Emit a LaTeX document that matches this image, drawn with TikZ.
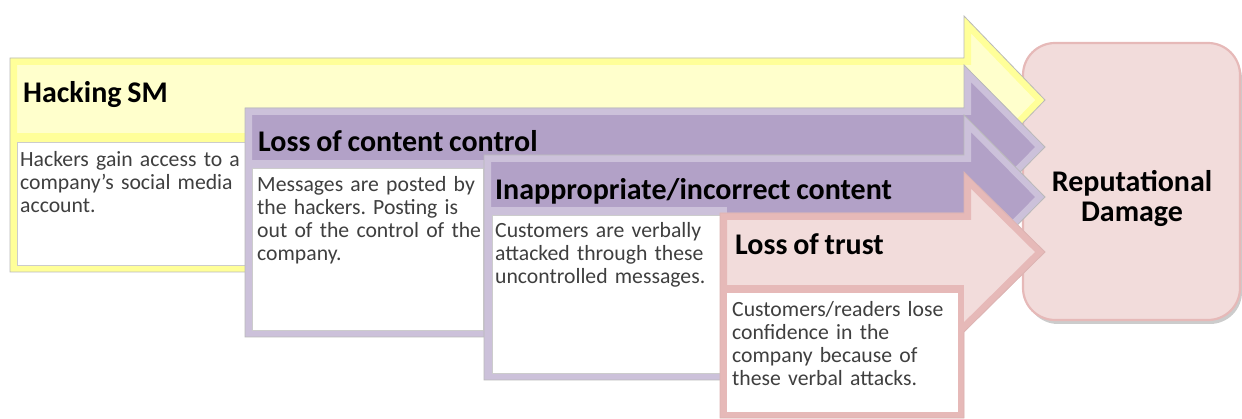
\documentclass[tikz,border=0pt]{standalone}
\usepackage{fontspec}
\setmainfont[WordSpace=0.85]{Carlito}
\usepackage{tikz}
\usepackage{xcolor}
\definecolor{yellowin}{HTML}{FFFFCC}
\definecolor{yellowrim}{HTML}{FFFF99}
\definecolor{purplein}{HTML}{B2A1C7}
\definecolor{purplerim}{HTML}{CCC1DA}
\definecolor{pinkin}{HTML}{F2DCDB}
\definecolor{pinkrim}{HTML}{E6B9B8}
\definecolor{bodygray}{HTML}{3F3F3F}
\frenchspacing

\begin{document}
\begin{tikzpicture}[x=1pt, y=-1pt]
	\tikzstyle{outline} = [draw=gray!55, line width=0.8]
	\tikzstyle{rim} = [line width=14]
	\tikzstyle{whitebox} = [fill=white, draw=gray!40, line width=0.6]
	\tikzstyle{title} = [anchor=base west, inner sep=0, font=\bfseries\fontsize{30}{30}\selectfont]
	\tikzstyle{body} = [anchor=base west, inner sep=0, text width=260, align=left, text=bodygray, font=\fontsize{21.7}{22.7}\selectfont]
	\useasboundingbox (0,0) rectangle (1242,419);
	% outcome box
	\fill[gray!40, rounded corners=32] (1026,47) rectangle (1242,324);
	\node[draw=pinkrim, fill=pinkin, line width=2.2, rounded corners=32, inner sep=0,
		minimum width=217, minimum height=277] (damage) at (1131.5,181.5) {};
	% step 1
	\def\hackshape{(10,58) -- (964,58) -- (964,16) -- (1045,100) -- (964,184) -- (964,142) -- (248,142) -- (248,272) -- (10,272) -- cycle}
	\fill[yellowin] \hackshape;
	\begin{scope}
		\clip \hackshape;
		\draw[yellowrim, rim] \hackshape;
		\fill[yellowrim] (10,133) rectangle (248,272);
	\end{scope}
	\draw[outline] \hackshape;
	\filldraw[whitebox] (17,142) rectangle (245,265);
	% step 2
	\def\contentshape{(245,108) -- (964,108) -- (964,65) -- (1045,147) -- (964,229) -- (964,186) -- (485,186) -- (485,337) -- (245,337) -- cycle}
	\fill[purplein] \contentshape;
	\begin{scope}
		\clip \contentshape;
		\draw[purplerim, rim] \contentshape;
		\fill[purplerim] (245,160) rectangle (485,337);
	\end{scope}
	\draw[outline] \contentshape;
	\filldraw[whitebox] (252,168) rectangle (483,330);
	% step 3
	\def\incorrectshape{(484,155) -- (964,155) -- (964,115) -- (1045,197) -- (964,279) -- (964,239) -- (727,239) -- (727,380) -- (484,380) -- cycle}
	\fill[purplein] \incorrectshape;
	\begin{scope}
		\clip \incorrectshape;
		\draw[purplerim, rim] \incorrectshape;
		\fill[purplerim] (484,207) rectangle (727,380);
	\end{scope}
	\draw[outline] \incorrectshape;
	\filldraw[whitebox] (492,215) rectangle (722,373);
	% step 4
	\def\trustshape{(720,213) -- (964,213) -- (964,172) -- (1045,252) -- (964,332) -- (964,418) -- (720,418) -- cycle}
	\fill[pinkin] \trustshape;
	\begin{scope}
		\clip \trustshape;
		\draw[pinkrim, rim] \trustshape;
		\fill[pinkrim] (720,285) rectangle (964,418);
	\end{scope}
	\draw[outline, draw=pinkrim!90!gray] \trustshape;
	\filldraw[whitebox, draw=none] (727,293) rectangle (958,412);
	% texts
	\node[title] (hacktitle) at (23,103) {Hacking SM};
	\node[title] (contenttitle) at (258,152) {Loss of content control};
	\node[title] (incorrecttitle) at (495,200) {Inappropriate/incorrect content};
	\node[title] (trusttitle) at (735,255) {Loss of trust};
	\node[body] (hacktext) at (20,167) {Hackers gain access to a\\company’s social media\\account.};
	\node[body] (contenttext) at (257,192) {Messages are posted by\\the hackers. Posting is\\out of the control of the\\company.};
	\node[body] (incorrecttext) at (495,238) {Customers are verbally\\attacked through these\\uncontrolled messages.};
	\node[body] (trusttext) at (732,317) {Customers/readers lose\\confidence in the\\company because of\\these verbal attacks.};
	\node[anchor=base, inner sep=0, text width=200, align=center, font=\bfseries\fontsize{30}{30}\selectfont] (damagetext) at (1132,192) {Reputational\\Damage};
\end{tikzpicture}
\end{document}
